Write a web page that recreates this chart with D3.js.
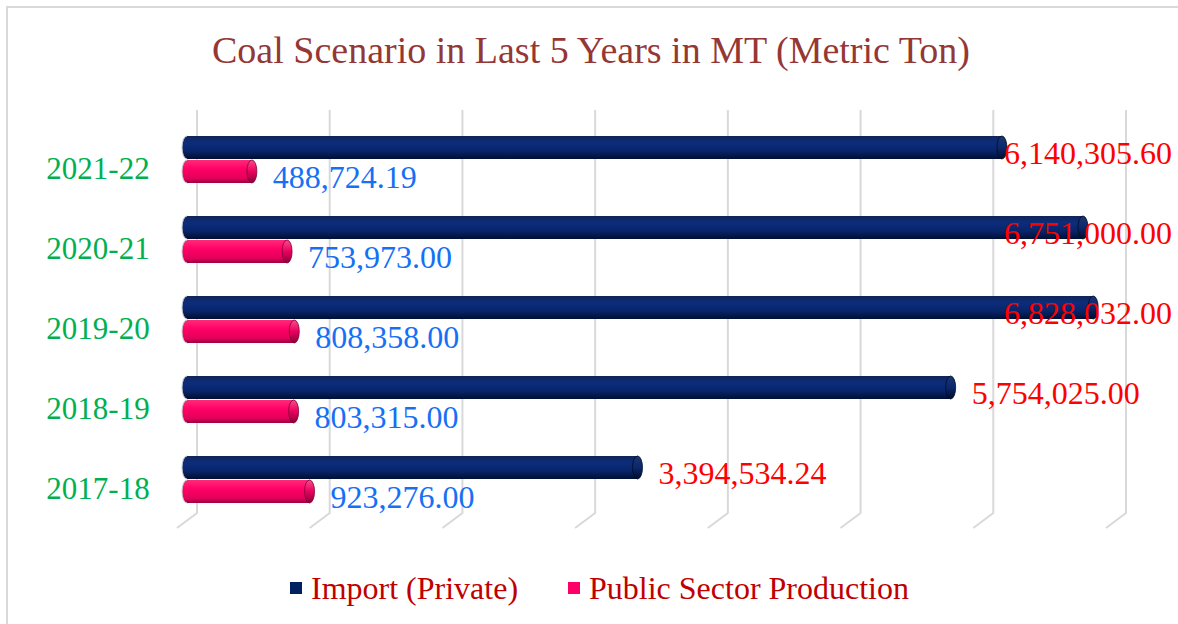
<!DOCTYPE html>
<html>
<head>
<meta charset="utf-8">
<script src="https://cdn.jsdelivr.net/npm/d3@7"></script>
<style>
  body { margin: 0; background: #fff; }
  svg { display: block; font-family: "Liberation Serif", "Times New Roman", serif; }
</style>
</head>
<body>
<div id="chart"></div>
<script>
(function () {
    'use strict';

    const years = ['2021-22', '2020-21', '2019-20', '2018-19', '2017-18'];
    const importPrivate = [6140305.60, 6751000.00, 6828032.00, 5754025.00, 3394534.24];
    const publicSector = [488724.19, 753973.00, 808358.00, 803315.00, 923276.00];
    const seriesNames = ['Import (Private)', 'Public Sector Production'];
    const xTicks = [0, 1000000, 2000000, 3000000, 4000000, 5000000, 6000000, 7000000];

    const width = 1178, height = 624;
    const depth = 10;      // half depth of the 3D floor, in px
    const rx = 5;          // cylinder cap radius
    const barH = 23;

    const svg = d3.select('#chart').append('svg')
        .attr('width', width)
        .attr('height', height);

    const defs = svg.append('defs');
    function grad(id, stops) {
        const g = defs.append('linearGradient')
            .attr('id', id)
            .attr('x1', 0).attr('y1', 0).attr('x2', 0).attr('y2', 1);
        stops.forEach(s => g.append('stop').attr('offset', s[0]).attr('stop-color', s[1]));
    }
    grad('gImp', [[0, '#10245a'], [0.3, '#0c2d7c'], [0.65, '#08256a'], [1, '#000e33']]);
    grad('gPub', [[0, '#ff2a78'], [0.4, '#ff0066'], [0.8, '#e2005a'], [1, '#9c0040']]);
    grad('gImpCap', [[0, '#1d3570'], [0.5, '#0a286c'], [1, '#000c2a']]);
    grad('gPubCap', [[0, '#ff4a8a'], [0.5, '#e8005e'], [1, '#8a0038']]);

    // chart frame
    svg.append('rect')
        .attr('x', 7).attr('y', 7)
        .attr('width', width + 20).attr('height', height + 20)
        .attr('fill', 'none')
        .attr('stroke', '#d9d9d9')
        .attr('stroke-width', 2);

    const x = d3.scaleLinear().domain([0, 7000000]).range([187, 1116]);
    const y = d3.scaleBand().domain(years).range([119, 519]);

    const gridTop = 110, gridBottom = 513;

    // gridlines: back wall + floor slant
    svg.append('g')
        .attr('fill', 'none')
        .attr('stroke', '#d9d9d9')
        .attr('stroke-width', 2)
        .selectAll('path')
        .data(xTicks)
        .join('path')
        .attr('d', d => `M${x(d) + depth},${gridTop}L${x(d) + depth},${gridBottom}L${x(d) - depth},${gridBottom + 15}`);

    // title
    svg.append('text')
        .attr('x', 591)
        .attr('y', 63)
        .attr('text-anchor', 'middle')
        .attr('fill', '#953735')
        .attr('font-size', 38)
        .text('Coal Scenario in Last 5 Years in MT (Metric Ton)');

    // category labels
    svg.append('g')
        .selectAll('text')
        .data(years)
        .join('text')
        .attr('x', 98)
        .attr('y', d => y(d) + y.bandwidth() / 2 + 9)
        .attr('dy', '0.35em')
        .attr('text-anchor', 'middle')
        .attr('fill', '#00b050')
        .attr('font-size', 31)
        .text(d => d);

    function cylinders(values, offset, fill, capFill, edge, cls) {
        const g = svg.append('g').attr('class', cls)
            .selectAll('g')
            .data(values.map((v, i) => ({ v, cat: years[i] })))
            .join('g')
            .attr('transform', d => `translate(0,${y(d.cat) + y.bandwidth() / 2 + offset})`);
        g.append('ellipse')
            .attr('cx', x(0)).attr('cy', barH / 2)
            .attr('rx', rx).attr('ry', barH / 2)
            .attr('fill', `url(#${fill})`)
            .attr('stroke', '#c8c8d0').attr('stroke-width', 1);
        g.append('rect')
            .attr('x', x(0)).attr('y', 0)
            .attr('width', d => x(d.v) - x(0))
            .attr('height', barH)
            .attr('fill', `url(#${fill})`);
        g.append('ellipse')
            .attr('cx', d => x(d.v)).attr('cy', barH / 2)
            .attr('rx', rx).attr('ry', barH / 2)
            .attr('fill', `url(#${capFill})`)
            .attr('stroke', edge).attr('stroke-width', 0.8);
    }
    cylinders(importPrivate, -23, 'gImp', 'gImpCap', '#000a25', 'imp');
    cylinders(publicSector, 1, 'gPub', 'gPubCap', '#80003a', 'pub');

    function valueLabels(values, offset, color, fmt) {
        svg.append('g')
            .selectAll('text')
            .data(values.map((v, i) => ({ v, cat: years[i] })))
            .join('text')
            .attr('x', d => x(d.v) + rx + 16)
            .attr('y', d => y(d.cat) + y.bandwidth() / 2 + offset + barH / 2 + 5)
            .attr('dy', '0.35em')
            .attr('fill', color)
            .attr('font-size', 32)
            .text(d => fmt(d.v))
            .each(function () {
                const w = this.getComputedTextLength();
                const x0 = +this.getAttribute('x');
                if (x0 + w > 1172) this.setAttribute('x', 1172 - w);
            });
    }
    const fmt2 = d3.format(',.2f');
    valueLabels(importPrivate, -23, '#ff0000', fmt2);
    valueLabels(publicSector, 1, '#1670f5', fmt2);

    // legend
    const legendColors = ['#002060', '#ff0066'];
    const legendX = [290, 568];
    const lg = svg.append('g')
        .selectAll('g')
        .data(seriesNames)
        .join('g')
        .attr('transform', (d, i) => `translate(${legendX[i]},588)`);
    lg.append('rect')
        .attr('x', 0).attr('y', -6)
        .attr('width', 12).attr('height', 12)
        .attr('fill', (d, i) => legendColors[i]);
    lg.append('text')
        .attr('x', 21)
        .attr('dy', '0.35em')
        .attr('fill', '#c00000')
        .attr('font-size', 32)
        .text(d => d);
})();
</script>
</body>
</html>
